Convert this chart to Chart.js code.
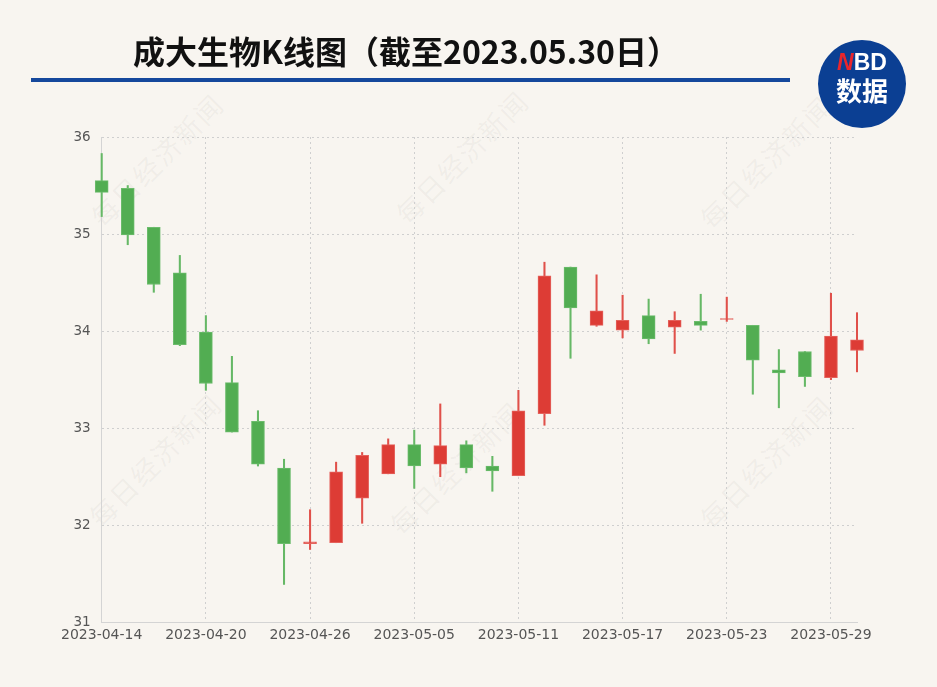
<!DOCTYPE html>
<html>
<head>
<meta charset="utf-8">
<script src="https://cdn.jsdelivr.net/npm/chart.js@4.4.0/dist/chart.umd.min.js"></script>
<style>
  html, body { margin:0; padding:0; background:#f8f5f0; }
  #wrap { position:relative; width:937px; height:687px; overflow:hidden; background:#f8f5f0; }
  #c { position:absolute; left:0; top:0; }
  .wm { position:absolute; width:240px; height:34px; margin-left:-120px; margin-top:-17px; text-align:center;
        font:400 27px "Noto Sans CJK SC", sans-serif; color:rgba(120,120,120,0.075); transform:rotate(-45deg);
        letter-spacing:2px; line-height:34px; white-space:nowrap; }
  #title { position:absolute; left:0; top:29px; width:812px; text-align:center; font:700 32px "Noto Sans CJK SC", sans-serif;
           color:#111; line-height:42px; white-space:nowrap; }
  #rule { position:absolute; left:31px; top:78px; width:759px; height:4px; background:#15489c; }
  #logo { position:absolute; left:818px; top:40px; width:88px; height:88px; border-radius:50%; background:#0b3f93; }
  #logo .nbd { position:absolute; left:0; top:9px; width:88px; text-align:center; font:700 23px "Liberation Sans", Arial, sans-serif; color:#fff; line-height:26px; }
  #logo .nbd span { color:#e8262d; font-style:italic; }
  #logo .sj { position:absolute; left:0; top:34px; width:88px; text-align:center; font:700 26px "Noto Sans CJK SC", sans-serif; color:#fff; line-height:32px; }
</style>
</head>
<body>
<div id="wrap">
  <div class="wm" style="left:157px;top:160px">每日经济新闻</div>
  <div class="wm" style="left:462px;top:157px">每日经济新闻</div>
  <div class="wm" style="left:766px;top:162px">每日经济新闻</div>
  <div class="wm" style="left:155px;top:460px">每日经济新闻</div>
  <div class="wm" style="left:456px;top:468px">每日经济新闻</div>
  <div class="wm" style="left:766px;top:462px">每日经济新闻</div>
  <canvas id="c" width="937" height="687"></canvas>
  <div id="title">成大生物K线图（截至2023.05.30日）</div>
  <div id="rule"></div>
  <div id="logo"><div class="nbd"><span>N</span>BD</div><div class="sj">数据</div></div>
</div>
<script>
const dates = ['2023-04-14','2023-04-17','2023-04-18','2023-04-19','2023-04-20','2023-04-21',
  '2023-04-24','2023-04-25','2023-04-26','2023-04-27','2023-04-28','2023-05-04','2023-05-05',
  '2023-05-08','2023-05-09','2023-05-10','2023-05-11','2023-05-12','2023-05-15','2023-05-16',
  '2023-05-17','2023-05-18','2023-05-19','2023-05-22','2023-05-23','2023-05-24','2023-05-25',
  '2023-05-26','2023-05-29','2023-05-30'];
const openP  = [35.55,35.47,35.07,34.60,33.99,33.47,33.07,32.59,31.81,31.82,32.28,32.53,32.83,32.63,32.83,32.61,32.51,33.15,34.66,34.06,34.01,34.16,34.04,34.10,34.12,34.06,33.60,33.79,33.52,33.80];
const closeP = [35.43,34.99,34.48,33.86,33.46,32.96,32.63,31.81,31.83,32.55,32.72,32.83,32.61,32.82,32.59,32.56,33.18,34.57,34.24,34.21,34.11,33.92,34.11,34.06,34.13,33.70,33.57,33.53,33.95,33.91];
const highP  = [35.83,35.50,35.07,34.78,34.16,33.74,33.18,32.68,32.16,32.65,32.75,32.89,32.98,33.25,32.87,32.71,33.39,34.71,34.66,34.58,34.37,34.33,34.20,34.38,34.35,34.06,33.81,33.79,34.39,34.19];
const lowP   = [35.18,34.89,34.40,33.85,33.39,32.96,32.61,31.39,31.75,31.82,32.02,32.53,32.38,32.50,32.54,32.35,32.51,33.03,33.72,34.05,33.93,33.87,33.77,34.01,34.10,33.35,33.21,33.43,33.50,33.58];
const yTicks = [31,32,33,34,35,36];

const RED = '#dd3c35', GREEN = '#52ad52';
const RED_W = '#e0504a', GREEN_W = '#66b866';
const up = i => closeP[i] >= openP[i];

new Chart(document.getElementById('c'), {
  type: 'bar',
  data: {
    labels: dates,
    datasets: [
      {
        label: 'body',
        data: openP.map((o, i) => [o, closeP[i]]),
        backgroundColor: c => up(c.dataIndex) ? RED : GREEN,
        borderColor: c => up(c.dataIndex) ? '#e4625c' : '#6cbc6c',
        borderWidth: 1,
        borderSkipped: false,
        barThickness: 13,
        grouped: false,
        clip: false
      },
      {
        label: 'wick',
        data: lowP.map((l, i) => [l, highP[i]]),
        backgroundColor: c => up(c.dataIndex) ? RED_W : GREEN_W,
        borderWidth: 0,
        barThickness: 1.4,
        grouped: false,
        clip: false
      }
    ]
  },
  options: {
    responsive: false,
    animation: false,
    events: [],
    layout: { padding: { left: 0, top: 137, right: 80, bottom: 0 } },
    plugins: { legend: { display: false }, tooltip: { enabled: false } },
    scales: {
      x: {
        type: 'category',
        offset: false,
        afterFit: s => { s.height = 64.7; },
        grid: {
          offset: false,
          drawTicks: false,
          lineWidth: 1,
          color: c => (c.index % 4 === 0 && c.index > 0) ? '#cfcfcf' : 'rgba(0,0,0,0)'
        },
        border: { display: true, color: '#d4d4d4', width: 1, dash: [2, 3] },
        ticks: {
          autoSkip: false, maxRotation: 0, minRotation: 0, padding: 5,
          color: '#555', font: { family: 'DejaVu Sans', size: 14 },
          callback: (v, i) => (i % 4 === 0 ? dates[i] : '')
        }
      },
      y: {
        min: yTicks[0], max: yTicks[yTicks.length - 1],
        afterFit: s => { s.width = 101.7; },
        afterBuildTicks: s => { s.ticks = yTicks.map(v => ({ value: v })); },
        grid: {
          drawTicks: false,
          lineWidth: 1,
          color: c => (c.tick && c.tick.value === yTicks[0]) ? 'rgba(0,0,0,0)' : '#cfcfcf'
        },
        border: { display: true, color: '#d4d4d4', width: 1, dash: [2, 3] },
        ticks: {
          padding: 11, color: '#555', font: { family: 'DejaVu Sans', size: 13.5 }
        }
      }
    }
  }
});
</script>
</body>
</html>
